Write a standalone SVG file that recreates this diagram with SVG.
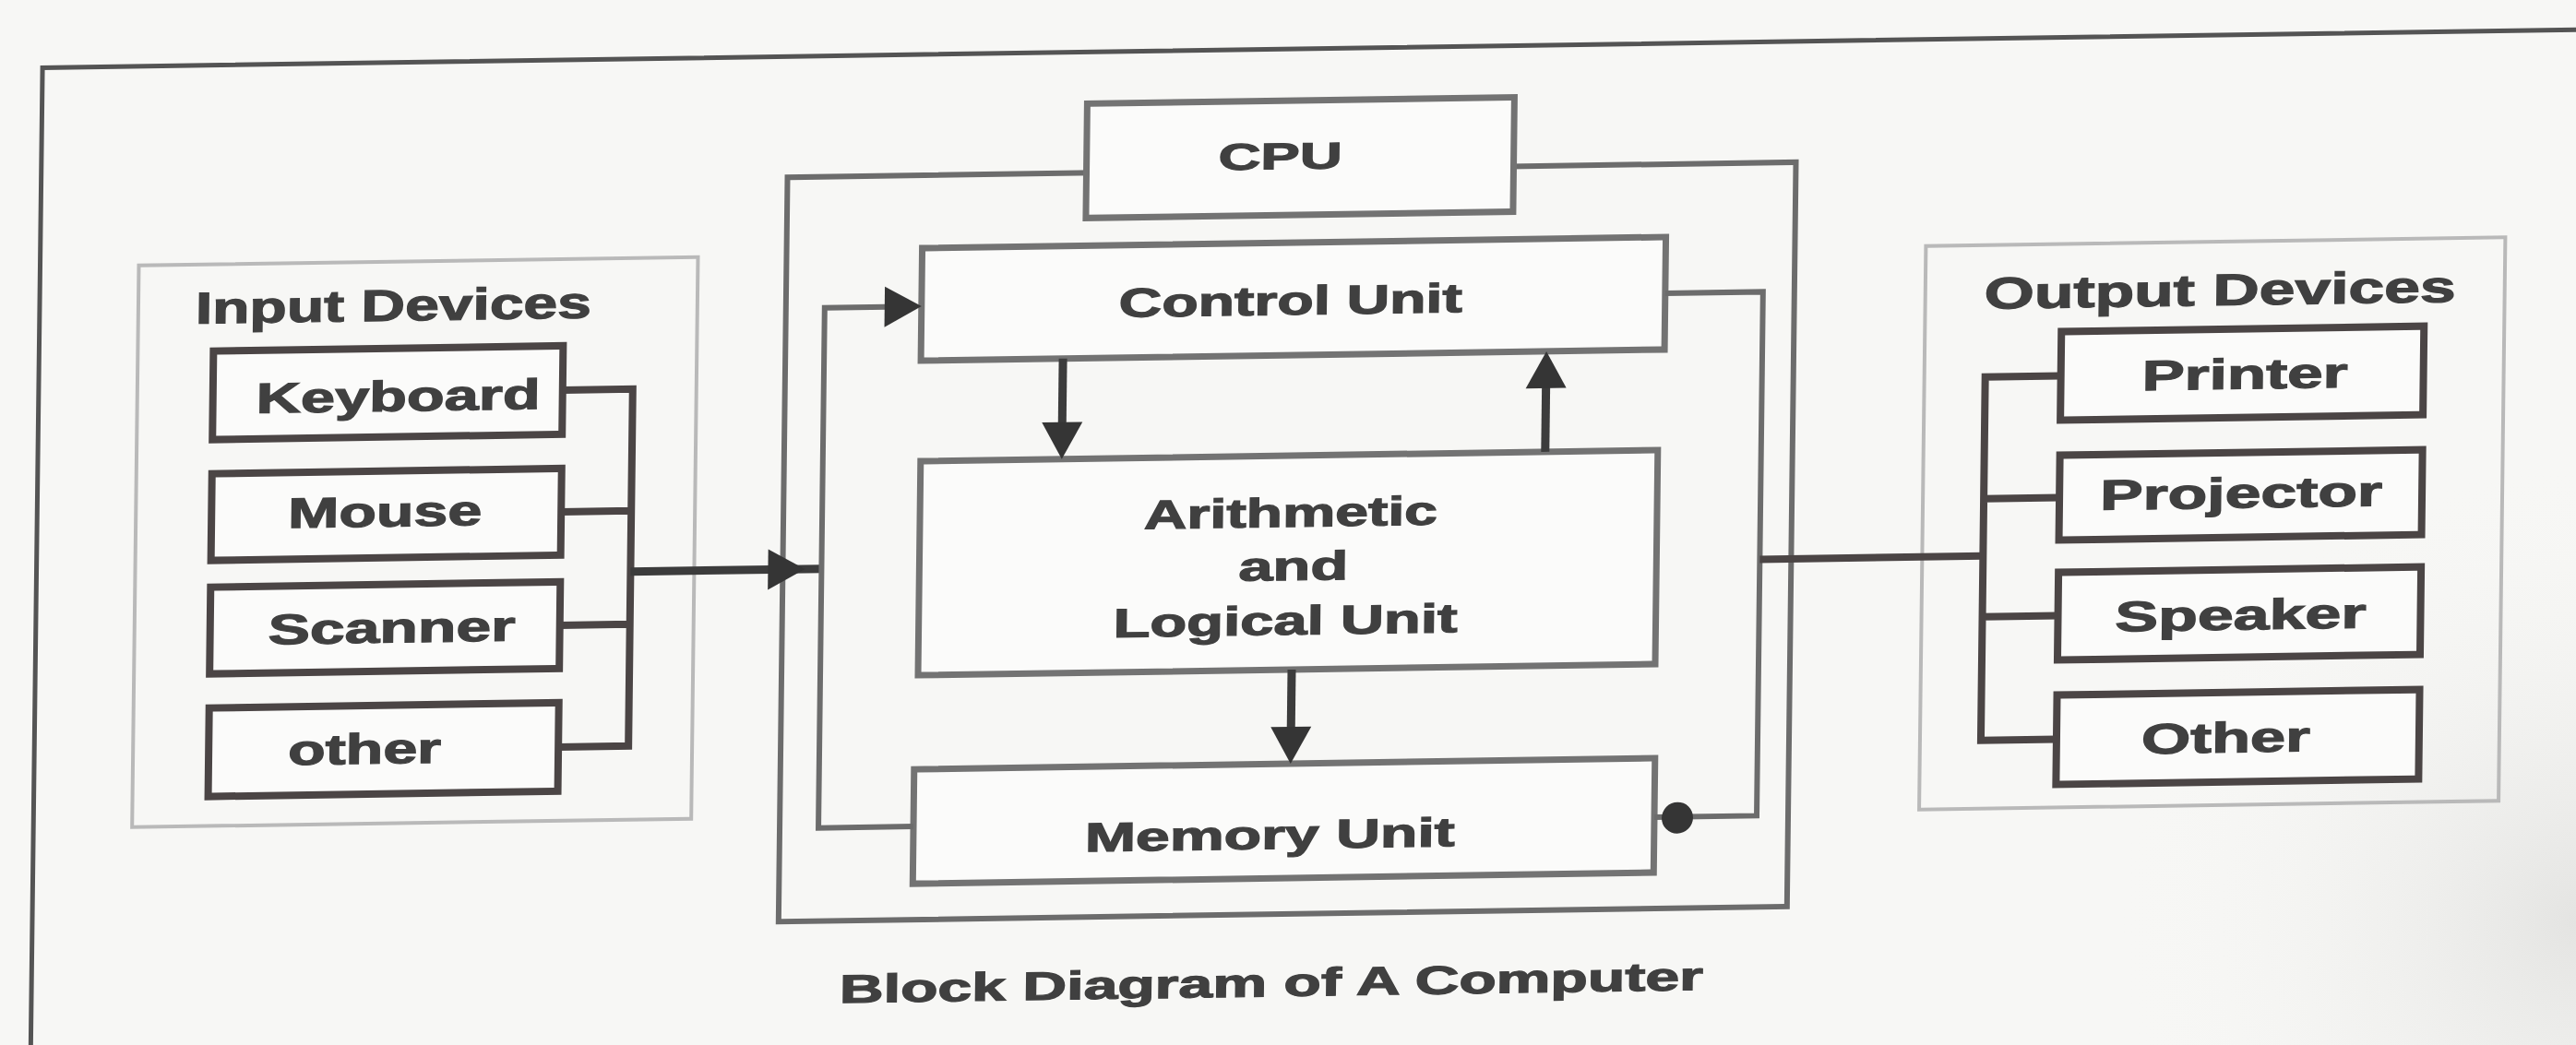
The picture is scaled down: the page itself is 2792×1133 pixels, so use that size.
<svg xmlns="http://www.w3.org/2000/svg" xmlns:xlink="http://www.w3.org/1999/xlink" width="2792" height="1133" viewBox="0 0 2792 1133">
<defs>
<style>
.bg{fill:#f7f7f5}
.frame{fill:none;stroke:#545454;stroke-width:5}
.group{fill:none;stroke:#b9b9b9;stroke-width:4}
.dev{fill:#fbfbfa;stroke:#4b4545;stroke-width:8}
.unit{fill:#fbfbfa;stroke:#737373;stroke-width:7}
.cpuouter{fill:none;stroke:#6c6c6c;stroke-width:6}
.t{font-family:"Liberation Sans",Arial,Helvetica,sans-serif;font-weight:bold;fill:#404040;stroke:#404040;stroke-width:1.2}
.bus{fill:none;stroke:#4b4545;stroke-width:8}
.fb{fill:none;stroke:#6c6c6c;stroke-width:6}
.dark{fill:none;stroke:#3c3c3c;stroke-width:9}
.ah{fill:#353535}
</style>
<radialGradient id="shade" cx="2792" cy="1000" r="500" gradientUnits="userSpaceOnUse">
<stop offset="0" stop-color="#e4e4e2"/>
<stop offset="1" stop-color="#f7f7f5" stop-opacity="0"/>
</radialGradient>
<path id="ahd" d="M-40,-22 L0,0 L-40,22 z"/>
</defs>
<rect class="bg" x="0" y="0" width="2792" height="1133"/>
<rect x="2200" y="500" width="592" height="633" fill="url(#shade)"/>
<g transform="matrix(1,-0.015,-0.012,1,6.72,21)">
  <path class="frame" d="M40,1250 V53 H2950"/>

  <g id="input-devices">
    <rect class="group" x="147" y="269" width="606" height="609"/>
    <text class="t" x="209" y="333" font-size="48" textLength="429" lengthAdjust="spacingAndGlyphs">Input Devices</text>
  </g>
  <g id="keyboard">
    <rect class="dev" x="229" y="363" width="379" height="96"/>
    <text class="t" x="276" y="431" font-size="46" textLength="308" lengthAdjust="spacingAndGlyphs">Keyboard</text>
  </g>
  <g id="mouse">
    <rect class="dev" x="229" y="496" width="379" height="94"/>
    <text class="t" x="312" y="556" font-size="46" textLength="210" lengthAdjust="spacingAndGlyphs">Mouse</text>
  </g>
  <g id="scanner">
    <rect class="dev" x="229" y="619" width="379" height="94"/>
    <text class="t" x="292" y="682" font-size="46" textLength="268" lengthAdjust="spacingAndGlyphs">Scanner</text>
  </g>
  <g id="other-input">
    <rect class="dev" x="229" y="750" width="379" height="96"/>
    <text class="t" x="315" y="813" font-size="46" textLength="166" lengthAdjust="spacingAndGlyphs">other</text>
  </g>

  <g id="cpu-outline">
    <rect class="cpuouter" x="849" y="184" width="1093" height="807"/>
  </g>
  <g id="cpu">
    <rect class="unit" x="1173" y="109" width="463" height="124"/>
    <text class="t" x="1316" y="183" font-size="40" textLength="134" lengthAdjust="spacingAndGlyphs">CPU</text>
  </g>
  <g id="control-unit">
    <rect class="unit" x="996" y="263" width="806" height="122"/>
    <text class="t" x="1210" y="341" font-size="44" textLength="372" lengthAdjust="spacingAndGlyphs">Control Unit</text>
  </g>
  <g id="alu">
    <rect class="unit" x="997" y="494" width="799" height="232"/>
    <text class="t" x="1240" y="571" font-size="44" textLength="318" lengthAdjust="spacingAndGlyphs">Arithmetic</text>
    <text class="t" x="1343" y="629" font-size="44" textLength="119" lengthAdjust="spacingAndGlyphs">and</text>
    <text class="t" x="1208" y="688" font-size="44" textLength="373" lengthAdjust="spacingAndGlyphs">Logical Unit</text>
  </g>
  <g id="memory-unit">
    <rect class="unit" x="994" y="828" width="803" height="124"/>
    <text class="t" x="1180" y="920" font-size="44" textLength="401" lengthAdjust="spacingAndGlyphs">Memory Unit</text>
  </g>

  <g id="output-devices">
    <rect class="group" x="2084" y="277" width="628" height="611"/>
    <text class="t" x="2148" y="346" font-size="48" textLength="511" lengthAdjust="spacingAndGlyphs">Output Devices</text>
  </g>
  <g id="printer">
    <rect class="dev" x="2232" y="372" width="393" height="96"/>
    <text class="t" x="2320" y="437" font-size="46" textLength="223" lengthAdjust="spacingAndGlyphs">Printer</text>
  </g>
  <g id="projector">
    <rect class="dev" x="2232" y="506" width="393" height="92"/>
    <text class="t" x="2276" y="566" font-size="46" textLength="306" lengthAdjust="spacingAndGlyphs">Projector</text>
  </g>
  <g id="speaker">
    <rect class="dev" x="2232" y="633" width="393" height="95"/>
    <text class="t" x="2294" y="698" font-size="46" textLength="272" lengthAdjust="spacingAndGlyphs">Speaker</text>
  </g>
  <g id="other-output">
    <rect class="dev" x="2232" y="766" width="393" height="97"/>
    <text class="t" x="2324" y="831" font-size="46" textLength="183" lengthAdjust="spacingAndGlyphs">Other</text>
  </g>

  <g id="connectors">
    <path class="bus" d="M608,411 H684 V798 H608 M608,543 H684 M608,666 H684"/>
    <path class="dark" stroke-width="7" d="M684,609 H891"/>
    <use xlink:href="#ahd" class="ah" transform="translate(873,609)"/>
    <path class="fb" d="M994,890 H891 V326 H958"/>
    <use xlink:href="#ahd" class="ah" transform="translate(996,326)"/>
    <path class="fb" d="M1802,324 H1908 V892 H1797"/>
    <circle class="ah" cx="1822" cy="893" r="17"/>
    <path class="bus" d="M1908,614 H2150"/>
    <path class="bus" d="M2232,420 H2150 V814 H2232 M2150,552 H2232 M2150,680 H2232"/>
    <path class="dark" d="M1150,385 V456"/>
    <use xlink:href="#ahd" class="ah" transform="translate(1150,494) rotate(90)"/>
    <path class="dark" d="M1674,494 V423"/>
    <use xlink:href="#ahd" class="ah" transform="translate(1674,385) rotate(-90)"/>
    <path class="dark" d="M1402,726 V790"/>
    <use xlink:href="#ahd" class="ah" transform="translate(1402,828) rotate(90)"/>
  </g>

  <text id="caption" class="t" x="916" y="1080" font-size="43" textLength="936" lengthAdjust="spacingAndGlyphs">Block Diagram of A Computer</text>
</g>
</svg>
